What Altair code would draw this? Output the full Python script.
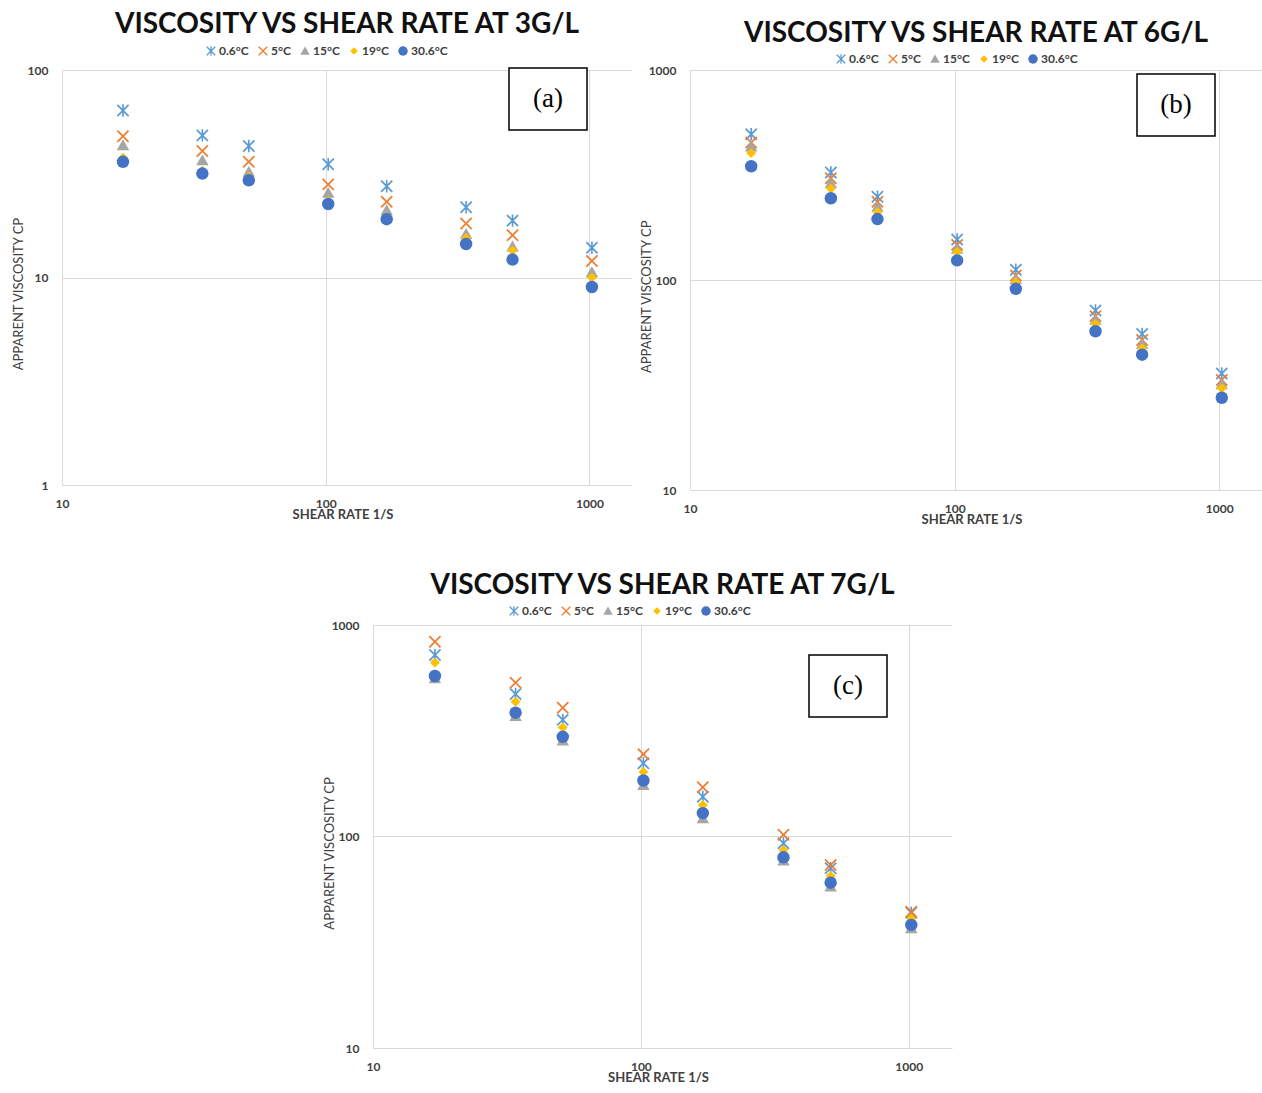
import altair as alt
import pandas as pd

# Shear rates of the eight viscometer speeds (1/s)
SHEAR_RATE = [17.03, 34.06, 51.09, 102.2, 170.3, 340.6, 510.9, 1021.8]

TEMPS = ["0.6°C", "5°C", "15°C", "19°C", "30.6°C"]
COLORS = ["#5B9BD5", "#ED7D31", "#A5A5A5", "#FFC000", "#4472C4"]

# Apparent viscosity (cP) at 3 g/L
VISC_3GL_T06 = [63.8, 48.4, 43.0, 35.1, 27.5, 21.8, 18.8, 13.9]
VISC_3GL_T5 = [47.9, 40.7, 36.1, 28.1, 23.2, 18.2, 16.0, 12.0]
VISC_3GL_T15 = [43.4, 36.7, 32.3, 25.6, 21.1, 16.2, 14.1, 10.6]
VISC_3GL_T19 = [37.8, 32.7, 30.6, 23.4, 19.5, 15.5, 13.5, 10.0]
VISC_3GL_T306 = [36.1, 31.7, 29.4, 22.6, 19.1, 14.5, 12.2, 9.0]

# Apparent viscosity (cP) at 6 g/L
VISC_6GL_T06 = [494, 325, 249, 156, 112, 71.6, 55.3, 35.9]
VISC_6GL_T5 = [452, 305, 236, 147, 105, 67.3, 51.8, 33.4]
VISC_6GL_T15 = [432, 289, 223, 141, 101, 64.6, 49.5, 31.9]
VISC_6GL_T19 = [402, 273, 211, 136, 97.8, 61.8, 47.3, 30.5]
VISC_6GL_T306 = [348, 245, 195, 124, 90.8, 57.0, 44.1, 27.5]

# Apparent viscosity (cP) at 7 g/L
VISC_7GL_T06 = [721, 472, 356, 222, 154, 92.9, 70.8, 43.6]
VISC_7GL_T5 = [834, 534, 406, 245, 171, 102, 73.3, 44.1]
VISC_7GL_T15 = [560, 371, 284, 175, 122, 76.9, 58.0, 36.8]
VISC_7GL_T19 = [664, 434, 328, 202, 141, 86.3, 65.1, 41.0]
VISC_7GL_T306 = [574, 385, 296, 184, 129, 79.7, 60.5, 38.2]

X_TICKS = [10, 100, 1000]
X_MAX = 1450

# Marker outlines in unit coordinates: asterisk, cross, triangle, diamond, circle
X_PATH = ("M-0.8,-1L0,-0.2L0.8,-1L1,-0.8L0.2,0L1,0.8L0.8,1L0,0.2"
          "L-0.8,1L-1,0.8L-0.2,0L-1,-0.8Z")
STAR_PATH = X_PATH + "M-0.13,-1L0.13,-1L0.13,1L-0.13,1Z"
TRI_PATH = "M0,-0.95L1,0.8L-1,0.8Z"
DIAMOND_PATH = "M0,-0.8L0.8,0L0,0.8L-0.8,0Z"
SHAPES = [STAR_PATH, X_PATH, TRI_PATH, DIAMOND_PATH, "circle"]

FONT = "Lato"
LABEL_COLOR = "#404040"


def blank():
    return alt.Chart(alt.Data(values=[{}]))


def panel(series, y_domain, y_ticks, width, height, title, title_y,
          legend_x, legend_y, tag, tag_box, frame):
    rows = []
    for rank, (temp, vals) in enumerate(zip(TEMPS, series)):
        for s, v in zip(SHEAR_RATE, vals):
            rows.append({"shear": s, "visc": v, "temp": temp, "rank": rank})
    df = pd.DataFrame(rows)

    legend = alt.Legend(
        title=None, orient="none", direction="horizontal",
        legendX=legend_x, legendY=legend_y,
        labelFont=FONT, labelFontSize=12, labelFontWeight="bold",
        labelColor=LABEL_COLOR, symbolSize=90, labelOffset=2,
        columnPadding=8, symbolStrokeWidth=0,
    )

    points = alt.Chart(df).mark_point(filled=True, opacity=1, size=155, strokeWidth=0).encode(
        x=alt.X("shear:Q",
                scale=alt.Scale(type="log", domain=[10, X_MAX], nice=False),
                axis=alt.Axis(values=X_TICKS, format="d", title=None, ticks=False,
                              domain=False, grid=True, gridColor="#d9d9d9",
                              labelFont=FONT, labelFontSize=12, labelFontWeight="bold",
                              labelColor=LABEL_COLOR, labelPadding=13, labelFlush=False)),
        y=alt.Y("visc:Q",
                scale=alt.Scale(type="log", domain=y_domain, nice=False),
                axis=alt.Axis(values=y_ticks, format="d", title=None, ticks=False,
                              domain=False, grid=True, gridColor="#d9d9d9",
                              labelFont=FONT, labelFontSize=12, labelFontWeight="bold",
                              labelColor=LABEL_COLOR, labelPadding=14, labelFlush=False)),
        color=alt.Color("temp:N", scale=alt.Scale(domain=TEMPS, range=COLORS), legend=legend),
        shape=alt.Shape("temp:N", scale=alt.Scale(domain=TEMPS, range=SHAPES), legend=legend),
        order=alt.Order("rank:Q"),
    )

    # Invisible frame that fixes the panel's footprint in the grid
    fl, ft, fr, fb = frame
    frame_mark = blank().mark_rect(opacity=0).encode(
        x=alt.value(fl), x2=alt.value(fr), y=alt.value(ft), y2=alt.value(fb))

    title_mark = blank().mark_text(
        text=title, font=FONT, fontSize=28, fontWeight="bold", color="#111111",
        align="center", baseline="alphabetic",
    ).encode(x=alt.value(width / 2), y=alt.value(title_y))

    x_title = blank().mark_text(
        text="SHEAR RATE 1/S", font=FONT, fontSize=13, fontWeight="bold",
        color=LABEL_COLOR, align="center", baseline="middle",
    ).encode(x=alt.value(width / 2 - 4), y=alt.value(height + 30))

    y_title = blank().mark_text(
        text="APPARENT VISCOSITY  CP", font=FONT, fontSize=13, color=LABEL_COLOR,
        angle=270, align="center", baseline="middle",
    ).encode(x=alt.value(-43), y=alt.value(height * 0.54))

    bx0, by0, bx1, by1 = tag_box
    box = blank().mark_rect(fill="white", stroke="black", strokeWidth=1.5).encode(
        x=alt.value(bx0), x2=alt.value(bx1), y=alt.value(by0), y2=alt.value(by1))
    tag_text = blank().mark_text(
        text=tag, font="Liberation Serif", fontSize=27, color="black",
        align="center", baseline="middle",
    ).encode(x=alt.value((bx0 + bx1) / 2), y=alt.value((by0 + by1) / 2))

    return alt.layer(frame_mark, points, box, tag_text, title_mark, x_title, y_title).properties(
        width=width, height=height)


panel_a = panel(
    [VISC_3GL_T06, VISC_3GL_T5, VISC_3GL_T15, VISC_3GL_T19, VISC_3GL_T306],
    [1, 100], [1, 10, 100], 570, 415,
    "VISCOSITY VS SHEAR RATE AT 3G/L", -37, 143, -25,
    "(a)", (447, -2, 525, 60),
    (-62, -70, 574, 470),
)
panel_b = panel(
    [VISC_6GL_T06, VISC_6GL_T5, VISC_6GL_T15, VISC_6GL_T19, VISC_6GL_T306],
    [10, 1000], [10, 100, 1000], 572, 420,
    "VISCOSITY VS SHEAR RATE AT 6G/L", -28, 145, -17,
    "(b)", (447, 4, 525, 66),
    (-54, -70, 572, 470),
)
panel_c = panel(
    [VISC_7GL_T06, VISC_7GL_T5, VISC_7GL_T15, VISC_7GL_T19, VISC_7GL_T306],
    [10, 1000], [10, 100, 1000], 579, 423,
    "VISCOSITY VS SHEAR RATE AT 7G/L", -31, 135, -20,
    "(c)", (436, 30, 514, 92),
    (-55, -85, 599, 445),
)

# Empty block that pushes the bottom panel towards the middle
spacer = blank().mark_rect(opacity=0).encode(
    x=alt.value(0), x2=alt.value(256), y=alt.value(0), y2=alt.value(1)
).properties(width=256, height=1)

top_row = alt.hconcat(panel_a, panel_b, spacing=0).resolve_scale(
    color="independent", shape="independent").resolve_legend(
    color="independent", shape="independent")

bottom_row = alt.hconcat(spacer, panel_c, spacing=0).resolve_scale(
    color="independent", shape="independent").resolve_legend(
    color="independent", shape="independent")

chart = alt.vconcat(top_row, bottom_row, spacing=0).resolve_scale(
    color="independent", shape="independent").resolve_legend(
    color="independent", shape="independent").properties(
    padding=0, background="white").configure_view(strokeWidth=0)

chart.save("out.html", embed_options={"renderer": "svg", "actions": False})
